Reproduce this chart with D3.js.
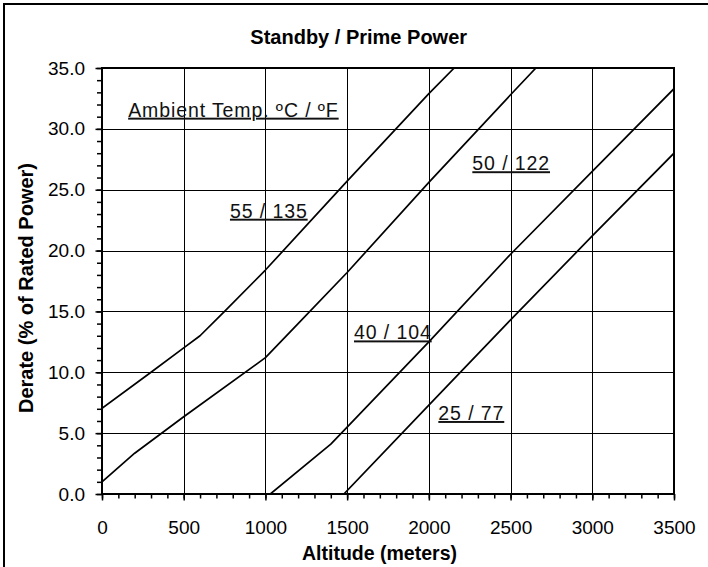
<!DOCTYPE html>
<html>
<head>
<meta charset="utf-8">
<script src="https://cdn.jsdelivr.net/npm/d3@7"></script>
<style>
  html, body { margin: 0; padding: 0; background: #fff; }
  svg { display: block; font-family: Arial, "Liberation Sans", sans-serif; }
</style>
</head>
<body>
<svg id="svg" width="708" height="567"></svg>
<script>
// curve data: altitude (m) -> derate (%)
var alt55 = [0, 300, 500, 600, 750, 1000, 1500, 2000, 2155];
var der55 = [7.05, 10.0, 12.0, 13.0, 15.0, 18.4, 25.7, 32.9, 35.0];

var alt50 = [0, 200, 500, 1000, 1200, 1500, 2000, 2500, 2655];
var der50 = [1.0, 3.35, 6.35, 11.2, 14.0, 18.2, 25.6, 32.8, 35.0];

var alt40 = [1030, 1400, 1500, 2000, 2500, 3000, 3500];
var der40 = [0, 4.1, 5.5, 12.5, 19.7, 26.5, 33.3];

var alt25 = [1480, 2000, 2500, 3000, 3500];
var der25 = [0, 7.3, 14.3, 21.2, 28.0];

var xTicks = [0, 500, 1000, 1500, 2000, 2500, 3000, 3500];
var yTicks = [0, 5, 10, 15, 20, 25, 30, 35];

// label text and anchor in data units (altitude, derate)
var labelText = ["Ambient Temp. \u00baC / \u00baF", "55 / 135", "50 / 122", "40 / 104", "25 / 77"];
var labelAlt = [160, 783, 2266, 1542, 2058];
var labelDer = [31.0, 22.7, 26.6, 12.7, 6.08];

(function() {
  'use strict';

  var svg = d3.select("#svg");

  // outer frame (runs off the right / bottom of the picture)
  svg.append("rect")
    .attr("x", 4).attr("y", 4)
    .attr("width", 740).attr("height", 600)
    .attr("fill", "none")
    .attr("stroke", "#000")
    .attr("stroke-width", 2);

  var x = d3.scaleLinear().domain([0, 3500]).range([102, 674]);
  var y = d3.scaleLinear().domain([0, 35]).range([494, 68]);

  // grid
  var grid = svg.append("g").attr("stroke", "#000").attr("stroke-width", 1);
  grid.selectAll("line.v").data(xTicks.slice(1, -1)).enter().append("line")
    .attr("x1", function(d) { return Math.round(x(d)) + 0.5; })
    .attr("x2", function(d) { return Math.round(x(d)) + 0.5; })
    .attr("y1", y(35)).attr("y2", y(0));
  grid.selectAll("line.h").data(yTicks.slice(1, -1)).enter().append("line")
    .attr("y1", function(d) { return Math.round(y(d)) + 0.5; })
    .attr("y2", function(d) { return Math.round(y(d)) + 0.5; })
    .attr("x1", x(0)).attr("x2", x(3500));

  // minor ticks
  var minorX = d3.range(0, 3501, 100);
  var minorY = d3.range(0, 35.01, 1);
  svg.append("g")
    .attr("transform", "translate(0," + y(0) + ")")
    .call(d3.axisBottom(x).tickValues(minorX).tickSize(4.5).tickFormat(""))
    .call(function(g) { g.select(".domain").remove(); })
    .selectAll("line").attr("stroke-width", 1.5);
  svg.append("g")
    .attr("transform", "translate(" + x(0) + ",0)")
    .call(d3.axisLeft(y).tickValues(minorY).tickSize(5).tickFormat(""))
    .call(function(g) { g.select(".domain").remove(); })
    .selectAll("line").attr("stroke-width", 1.5);

  // major ticks + labels
  var xAxis = svg.append("g")
    .attr("transform", "translate(0," + y(0) + ")")
    .call(d3.axisBottom(x).tickValues(xTicks).tickSize(6.5).tickFormat(d3.format("d")));
  xAxis.select(".domain").remove();
  xAxis.selectAll("line").attr("stroke-width", 1.5);
  xAxis.selectAll("text")
    .attr("y", 40).attr("dy", 0)
    .attr("font-size", 19).attr("font-family", null).attr("fill", "#000");

  var yAxis = svg.append("g")
    .attr("transform", "translate(" + x(0) + ",0)")
    .call(d3.axisLeft(y).tickValues(yTicks).tickSize(6.5).tickPadding(10.5).tickFormat(d3.format(".1f")));
  yAxis.select(".domain").remove();
  yAxis.selectAll("line").attr("stroke-width", 1.5);
  yAxis.selectAll("text")
    .attr("font-size", 19).attr("font-family", null).attr("fill", "#000");

  // plot frame
  svg.append("rect")
    .attr("x", x(0)).attr("y", y(35))
    .attr("width", x(3500) - x(0)).attr("height", y(0) - y(35))
    .attr("fill", "none").attr("stroke", "#000").attr("stroke-width", 2);

  // curves
  svg.append("clipPath").attr("id", "plot")
    .append("rect")
    .attr("x", x(0)).attr("y", y(35))
    .attr("width", x(3500) - x(0)).attr("height", y(0) - y(35));

  var line = d3.line()
    .x(function(d) { return x(d[0]); })
    .y(function(d) { return y(d[1]); });

  var series = [
    d3.zip(alt55, der55),
    d3.zip(alt50, der50),
    d3.zip(alt40, der40),
    d3.zip(alt25, der25)
  ];

  svg.append("g").attr("clip-path", "url(#plot)")
    .selectAll("path").data(series).enter().append("path")
    .attr("d", line)
    .attr("fill", "none")
    .attr("stroke", "#000")
    .attr("stroke-width", 1.7)
    .attr("stroke-linejoin", "round");

  // underlined annotations
  svg.append("g").selectAll("text").data(d3.range(labelText.length)).enter().append("text")
    .attr("x", function(i) { return x(labelAlt[i]); })
    .attr("y", function(i) { return y(labelDer[i]); })
    .attr("font-size", 19.5)
    .attr("letter-spacing", 0.9)
    .attr("text-decoration", "underline")
    .attr("fill", "#111")
    .text(function(i) { return labelText[i]; });

  // titles
  svg.append("text")
    .attr("x", 358.7).attr("y", 44.3)
    .attr("text-anchor", "middle")
    .attr("font-size", 20).attr("font-weight", "bold")
    .text("Standby / Prime Power");

  svg.append("text")
    .attr("x", 379.5).attr("y", 560)
    .attr("text-anchor", "middle")
    .attr("font-size", 19.5).attr("font-weight", "bold")
    .text("Altitude (meters)");

  svg.append("text")
    .attr("transform", "translate(33,288) rotate(-90)")
    .attr("text-anchor", "middle")
    .attr("font-size", 20).attr("font-weight", "bold")
    .text("Derate (% of Rated Power)");
}());
</script>
</body>
</html>
